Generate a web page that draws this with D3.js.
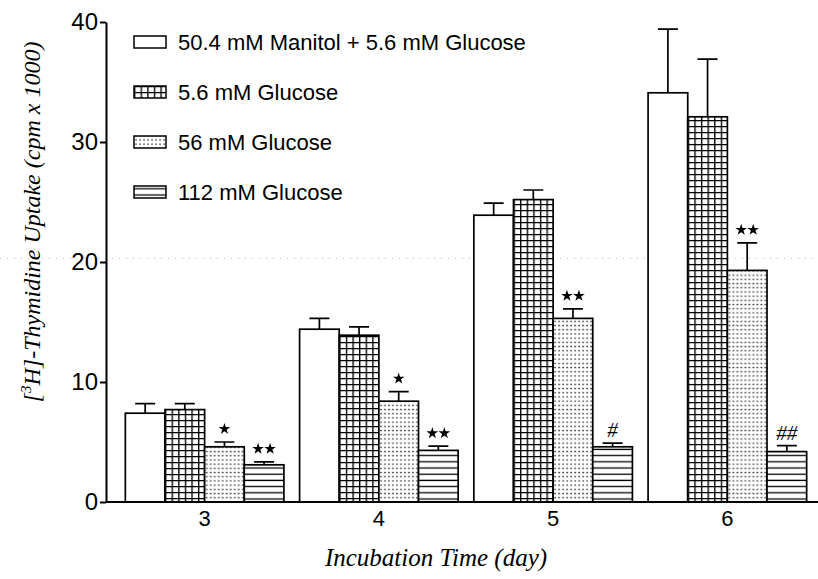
<!DOCTYPE html>
<html>
<head>
<meta charset="utf-8">
<script src="https://cdn.jsdelivr.net/npm/d3@7"></script>
<style>
  body { margin: 0; background: #fff; }
  svg { display: block; }
</style>
</head>
<body>
<svg width="818" height="579"></svg>
<script>
// values (cpm x 1000), mean and SEM
const days = ["3", "4", "5", "6"];
const seriesNames = ["50.4 mM Manitol + 5.6 mM Glucose", "5.6 mM Glucose", "56 mM Glucose", "112 mM Glucose"];
const manitol = [7.4, 14.4, 23.9, 34.1];
const glucose5_6 = [7.7, 13.9, 25.2, 32.1];
const glucose56 = [4.6, 8.4, 15.3, 19.3];
const glucose112 = [3.1, 4.3, 4.6, 4.2];
const manitolErr = [0.8, 0.9, 1.0, 5.3];
const glucose5_6Err = [0.5, 0.7, 0.8, 4.8];
const glucose56Err = [0.4, 0.8, 0.8, 2.3];
const glucose112Err = [0.25, 0.35, 0.3, 0.5];
const marks56 = ["*", "*", "**", "**"];
const marks112 = ["**", "**", "#", "##"];
const yTicks = [0, 10, 20, 30, 40];

const values = [manitol, glucose5_6, glucose56, glucose112];
const errors = [manitolErr, glucose5_6Err, glucose56Err, glucose112Err];
const marks = [null, null, marks56, marks112];
const fills = ["#fff", "url(#grid)", "url(#dots)", "url(#stripes)"];

const svg = d3.select("svg");
const width = +svg.attr("width"), height = +svg.attr("height");

// patterns
const defs = svg.append("defs");
const pg = defs.append("pattern").attr("id", "grid").attr("patternUnits", "userSpaceOnUse")
  .attr("width", 6.6).attr("height", 6);
pg.append("rect").attr("width", 6.6).attr("height", 6).attr("fill", "#fff");
pg.append("path").attr("d", "M0 0.6H6.6M0.6 0V6").attr("stroke", "#000").attr("stroke-width", 1.5);
const pd = defs.append("pattern").attr("id", "dots").attr("patternUnits", "userSpaceOnUse")
  .attr("width", 4).attr("height", 4.2);
pd.append("rect").attr("width", 4).attr("height", 4.2).attr("fill", "#fff");
pd.append("rect").attr("x", 1.4).attr("y", 1.5).attr("width", 1.3).attr("height", 1.3).attr("fill", "#000");
const ps = defs.append("pattern").attr("id", "stripes").attr("patternUnits", "userSpaceOnUse")
  .attr("width", 10).attr("height", 6.2);
ps.append("rect").attr("width", 10).attr("height", 6.2).attr("fill", "#fff");
ps.append("path").attr("d", "M0 3H10").attr("stroke", "#000").attr("stroke-width", 1.3);

svg.append("rect").attr("width", width).attr("height", height).attr("fill", "#fff");

const y = d3.scaleLinear().domain([0, 40]).range([502, 22]);
const x = d3.scaleBand().domain(days).range([117.5, 814.5]).paddingInner(0.09).paddingOuter(0.045);
const xs = d3.scaleBand().domain(d3.range(4)).range([0, x.bandwidth()]);

// faint dotted scan line near 20
svg.append("line").attr("x1", 0).attr("x2", width).attr("y1", y(20.3)).attr("y2", y(20.3))
  .attr("stroke", "#bbb").attr("stroke-width", 1).attr("stroke-dasharray", "1,6");

const rows = [];
days.forEach((d, i) => {
  values.forEach((arr, s) => rows.push({ day: d, s: s, v: arr[i], e: errors[s][i], m: marks[s] ? marks[s][i] : null }));
});

const g = svg.append("g");
const bars = g.selectAll("g.bar").data(rows).enter().append("g").attr("class", "bar")
  .attr("transform", d => "translate(" + (x(d.day) + xs(d.s)) + ",0)");

// error bars (upper only)
bars.append("path")
  .attr("d", d => {
    const cx = xs.bandwidth() / 2;
    return "M" + cx + "," + y(d.v) + "V" + y(d.v + d.e) + "M" + (cx - 10) + "," + y(d.v + d.e) + "H" + (cx + 10);
  })
  .attr("stroke", "#000").attr("stroke-width", 1.7).attr("fill", "none");

bars.append("rect")
  .attr("y", d => y(d.v))
  .attr("width", xs.bandwidth())
  .attr("height", d => y(0) - y(d.v))
  .attr("fill", d => fills[d.s])
  .attr("stroke", "#000").attr("stroke-width", 1.7);

// significance marks
const star = d3.symbol().type(d3.symbolStar).size(42);
bars.filter(d => d.m).each(function (d) {
  const el = d3.select(this), cx = xs.bandwidth() / 2, cy = y(d.v + d.e) - 13;
  if (d.m[0] === "*") {
    const n = d.m.length;
    for (let k = 0; k < n; k++) {
      el.append("path").attr("d", star())
        .attr("transform", "translate(" + (cx + (k - (n - 1) / 2) * 12) + "," + cy + ")")
        .attr("fill", "#000");
    }
  } else {
    el.append("text").attr("x", cx).attr("y", cy + 7).attr("text-anchor", "middle")
      .attr("font-family", "Liberation Serif, serif").attr("font-style", "italic")
      .attr("font-size", 21).text(d.m);
  }
});

// axes
const yAxis = svg.append("g").attr("transform", "translate(106,0)")
  .call(d3.axisLeft(y).tickValues(yTicks).tickFormat(d3.format("d")).tickSize(6).tickSizeOuter(0).tickPadding(2));
yAxis.select(".domain").attr("stroke-width", 2);
yAxis.selectAll(".tick line").attr("stroke-width", 2);
yAxis.selectAll("text").attr("font-family", "Liberation Sans, Arial, sans-serif").attr("font-size", 24).attr("fill", "#000");

const xAxis = svg.append("g").attr("transform", "translate(0," + y(0) + ")")
  .call(d3.axisBottom(x).tickSize(0).tickPadding(8));
xAxis.select(".domain").attr("d", "M106,0H" + width).attr("stroke-width", 2);
xAxis.selectAll("text").attr("font-family", "Liberation Sans, Arial, sans-serif").attr("font-size", 22).attr("fill", "#000");

// axis titles
svg.append("text").attr("x", 436).attr("y", 566).attr("text-anchor", "middle")
  .attr("font-family", "Liberation Serif, Times New Roman, serif").attr("font-style", "italic")
  .attr("font-size", 25).text("Incubation Time (day)");

const yt = svg.append("text").attr("transform", "translate(40,222) rotate(-90)").attr("text-anchor", "middle")
  .attr("font-family", "Liberation Serif, Times New Roman, serif").attr("font-style", "italic")
  .attr("font-size", 24);
yt.append("tspan").text("[");
yt.append("tspan").attr("font-size", 15).attr("dy", -9).text("3");
yt.append("tspan").attr("dy", 9).text("H]-Thymidine Uptake (cpm x 1000)");

// legend
const legend = svg.append("g").attr("transform", "translate(134,42)");
const li = legend.selectAll("g").data(seriesNames).enter().append("g")
  .attr("transform", (d, i) => "translate(0," + i * 50 + ")");
li.append("rect").attr("y", -6).attr("width", 32).attr("height", 12)
  .attr("fill", (d, i) => fills[i]).attr("stroke", "#000").attr("stroke-width", 1.5);
li.append("text").attr("x", 44).attr("y", 8)
  .attr("font-family", "Liberation Sans, Arial, sans-serif").attr("font-size", 22).text(d => d);
</script>
</body>
</html>
